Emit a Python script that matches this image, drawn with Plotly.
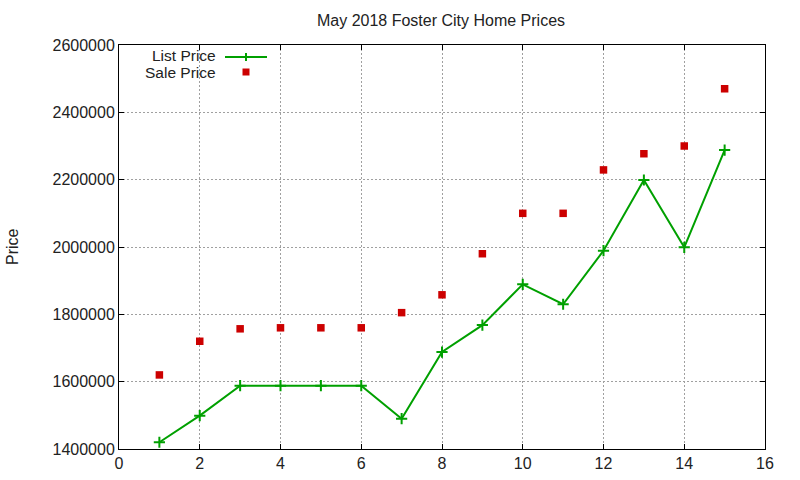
import plotly.graph_objects as go

x_vals = list(range(1, 16))
list_price = [1420000, 1499000, 1588000, 1588000, 1588000, 1588000, 1490000, 1688000,
              1768000, 1889000, 1830000, 1989000, 2199000, 1999000, 2288000]
sale_price = [1620000, 1720000, 1757000, 1760000, 1760000, 1760000, 1805000, 1858000,
              1980000, 2100000, 2100000, 2229000, 2277000, 2300000, 2470000]
x_ticks = list(range(0, 17, 2))
y_ticks = list(range(1400000, 2600001, 200000))

GREEN = "#00a000"
RED = "#cc0000"
FONT = "Liberation Sans, Arial, sans-serif"
TXT = "#222"

L, R, T, B = 119, 35, 45, 31
PW, PH = 800 - L - R, 480 - T - B


def px(xp):
    return (xp - L) / PW


def py(yp):
    return (480 - B - yp) / PH


fig = go.Figure()
fig.add_trace(go.Scatter(
    x=x_vals, y=list_price, mode="lines+markers", name="List Price",
    line=dict(color=GREEN, width=2),
    marker=dict(symbol="cross-thin", size=8, line=dict(color=GREEN, width=2), color=GREEN),
    showlegend=False,
))
fig.add_trace(go.Scatter(
    x=x_vals, y=sale_price, mode="markers", name="Sale Price",
    marker=dict(symbol="square", size=7.5, color=RED),
    showlegend=False,
))

axis_common = dict(
    showline=True, linecolor="black", linewidth=1, mirror="ticks",
    ticks="inside", ticklen=5, tickcolor="black",
    showgrid=True, gridcolor="#a0a0a0", griddash="2px,2px", gridwidth=1,
    zeroline=False, tickfont=dict(family=FONT, size=16, color=TXT),
    automargin=False,
)

fig.update_xaxes(range=[0, 16], tickvals=x_ticks, **axis_common)
fig.update_yaxes(range=[1400000, 2600000], tickvals=y_ticks,
                 ticktext=[str(v) for v in y_ticks], **axis_common)

# Legend (gnuplot style: right-aligned text, sample to the right)
fig.add_annotation(xref="paper", yref="paper", x=px(218), y=py(55), text="List Price",
                   showarrow=False, xanchor="right", yanchor="middle",
                   font=dict(family=FONT, size=15.5, color=TXT))
fig.add_annotation(xref="paper", yref="paper", x=px(218), y=py(72.5), text="Sale Price",
                   showarrow=False, xanchor="right", yanchor="middle",
                   font=dict(family=FONT, size=15.5, color=TXT))
fig.add_shape(type="line", xref="paper", yref="paper", x0=px(225), x1=px(267), y0=py(57), y1=py(57),
              line=dict(color=GREEN, width=2))
fig.add_shape(type="line", xref="paper", yref="paper", x0=px(246), x1=px(246), y0=py(53), y1=py(61),
              line=dict(color=GREEN, width=2))
fig.add_shape(type="rect", xref="paper", yref="paper", x0=px(242.5), x1=px(249.5), y0=py(75.5), y1=py(68.5),
              line=dict(width=0), fillcolor=RED)

# Y-axis title
fig.add_annotation(xref="paper", yref="paper", x=px(12), y=py(247), text="Price",
                   showarrow=False, textangle=-90, xanchor="center", yanchor="middle",
                   font=dict(family=FONT, size=16, color=TXT))

fig.update_layout(
    width=800, height=480,
    margin=dict(l=L, r=R, t=T, b=B),
    paper_bgcolor="white", plot_bgcolor="white",
    title=dict(text="May 2018 Foster City Home Prices", x=441 / 800, xanchor="center",
               y=1 - 20 / 480, yanchor="middle", font=dict(family=FONT, size=16, color=TXT)),
    font=dict(family=FONT),
)

fig.write_html("out.html", config={"displayModeBar": False},
               post_script="document.body.style.margin='0';document.body.style.overflow='hidden';")
